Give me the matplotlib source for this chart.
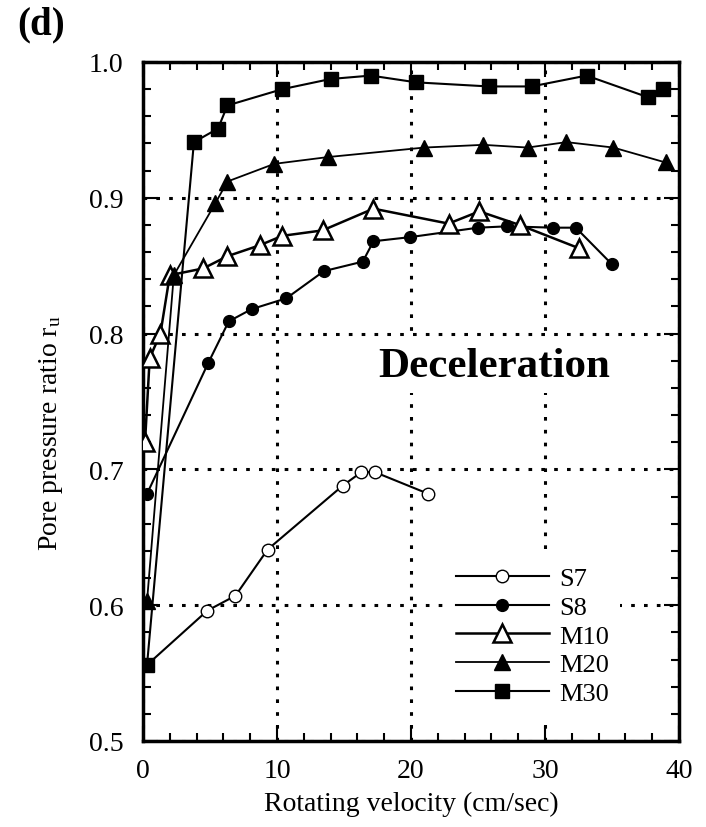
import matplotlib
matplotlib.use('Agg')
import matplotlib.pyplot as plt
from matplotlib.ticker import MultipleLocator

plt.rcParams['font.family'] = ['Liberation Serif', 'DejaVu Serif']
plt.rcParams['mathtext.fontset'] = 'custom'
plt.rcParams['mathtext.rm'] = 'Liberation Serif'
plt.rcParams['mathtext.it'] = 'Liberation Serif'

# valores (velocidade em cm/sec, razao r_u)
s7_x = [0.3, 4.8, 6.9, 9.3, 14.9, 16.3, 17.3, 21.3]
s7_y = [0.556, 0.596, 0.607, 0.641, 0.688, 0.698, 0.698, 0.682]

s8_x = [0.3, 4.85, 6.4, 8.1, 10.7, 13.5, 16.4, 17.2, 19.9, 25.0, 27.2, 30.6, 32.3, 35.0]
s8_y = [0.682, 0.778, 0.809, 0.818, 0.826, 0.846, 0.853, 0.868, 0.871, 0.878, 0.879, 0.878, 0.878, 0.851]

m10_x = [0.15, 0.5, 1.3, 2.0, 4.5, 6.3, 8.7, 10.4, 13.4, 17.2, 22.8, 25.1, 28.1, 32.5]
m10_y = [0.720, 0.782, 0.800, 0.843, 0.848, 0.857, 0.865, 0.872, 0.876, 0.892, 0.881, 0.890, 0.880, 0.863]

m20_x = [0.3, 2.3, 5.4, 6.3, 9.8, 13.8, 21.0, 25.4, 28.7, 31.6, 35.1, 39.0]
m20_y = [0.603, 0.843, 0.896, 0.912, 0.925, 0.930, 0.937, 0.939, 0.937, 0.941, 0.937, 0.926]

m30_x = [0.3, 3.8, 5.6, 6.3, 10.4, 14.0, 17.0, 20.4, 25.8, 29.0, 33.1, 37.7, 38.8]
m30_y = [0.556, 0.941, 0.951, 0.968, 0.980, 0.9875, 0.990, 0.985, 0.982, 0.982, 0.990, 0.974, 0.980]

fig = plt.figure(figsize=(7.06, 8.28), dpi=100)
ax = fig.add_axes([143/706, 1-742/828, 536/706, 679/828])

ax.plot(s7_x, s7_y, '-o', color='black', mfc='white', mec='black', ms=9, lw=1.5, label='S7', zorder=5)
ax.plot(s8_x, s8_y, '-o', color='black', ms=8.5, lw=1.5, label='S8', zorder=5)
ax.plot(m10_x, m10_y, '-^', color='black', mfc='white', mec='black', mew=1.8, ms=13, lw=1.8, label='M10', zorder=5)
ax.plot(m20_x, m20_y, '-^', color='black', ms=12, lw=1.3, label='M20', zorder=5)
ax.plot(m30_x, m30_y, '-s', color='black', ms=10, lw=1.5, label='M30', zorder=5)

ax.set_xlim(0, 40)
ax.set_ylim(0.5, 1.0)
ax.xaxis.set_major_locator(MultipleLocator(10))
ax.xaxis.set_minor_locator(MultipleLocator(2))
ax.yaxis.set_minor_locator(MultipleLocator(0.02))
ax.set_yticks([0.5, 0.6, 0.7, 0.8, 0.9, 1.0])
ax.set_yticklabels(['0.5', '0.6', '0.7', '0.8', '0.9', '1.0'])

ax.tick_params(which='both', direction='in', top=True, right=True, width=1.5, labelsize=20)
ax.tick_params(which='major', length=11, pad=12)
ax.tick_params(which='minor', length=6)
ax.tick_params(axis='y', which='major', pad=14)
for s in ax.spines.values():
    s.set_linewidth(2.5)

ax.set_axisbelow(True)
ax.grid(True, which='major', color='black', linestyle=(0, (1.2, 3)), linewidth=2.2)

ax.set_xlabel('Rotating velocity (cm/sec)', fontsize=20, labelpad=6)
ax.set_ylabel(r'Pore pressure ratio r$_{\rm u}$', fontsize=20)
ax.yaxis.set_label_coords(-0.145, 0.455)

ax.text(26.2, 0.776, 'Deceleration', fontsize=31, fontweight='bold', ha='center', va='center',
        bbox=dict(facecolor='white', edgecolor='none', pad=6), zorder=3)

leg = ax.legend(loc='lower left', bbox_to_anchor=(0.54, 0.018), fontsize=19, frameon=True,
                handlelength=3.5, handletextpad=0.4, labelspacing=0.2, borderpad=0.4)
leg.get_frame().set_edgecolor('none')
leg.get_frame().set_facecolor('white')
leg.get_frame().set_alpha(1)

fig.text(0.025, 0.992, '(d)', fontsize=28, fontweight='bold', ha='left', va='top')

fig.savefig('out.png', dpi=100)
